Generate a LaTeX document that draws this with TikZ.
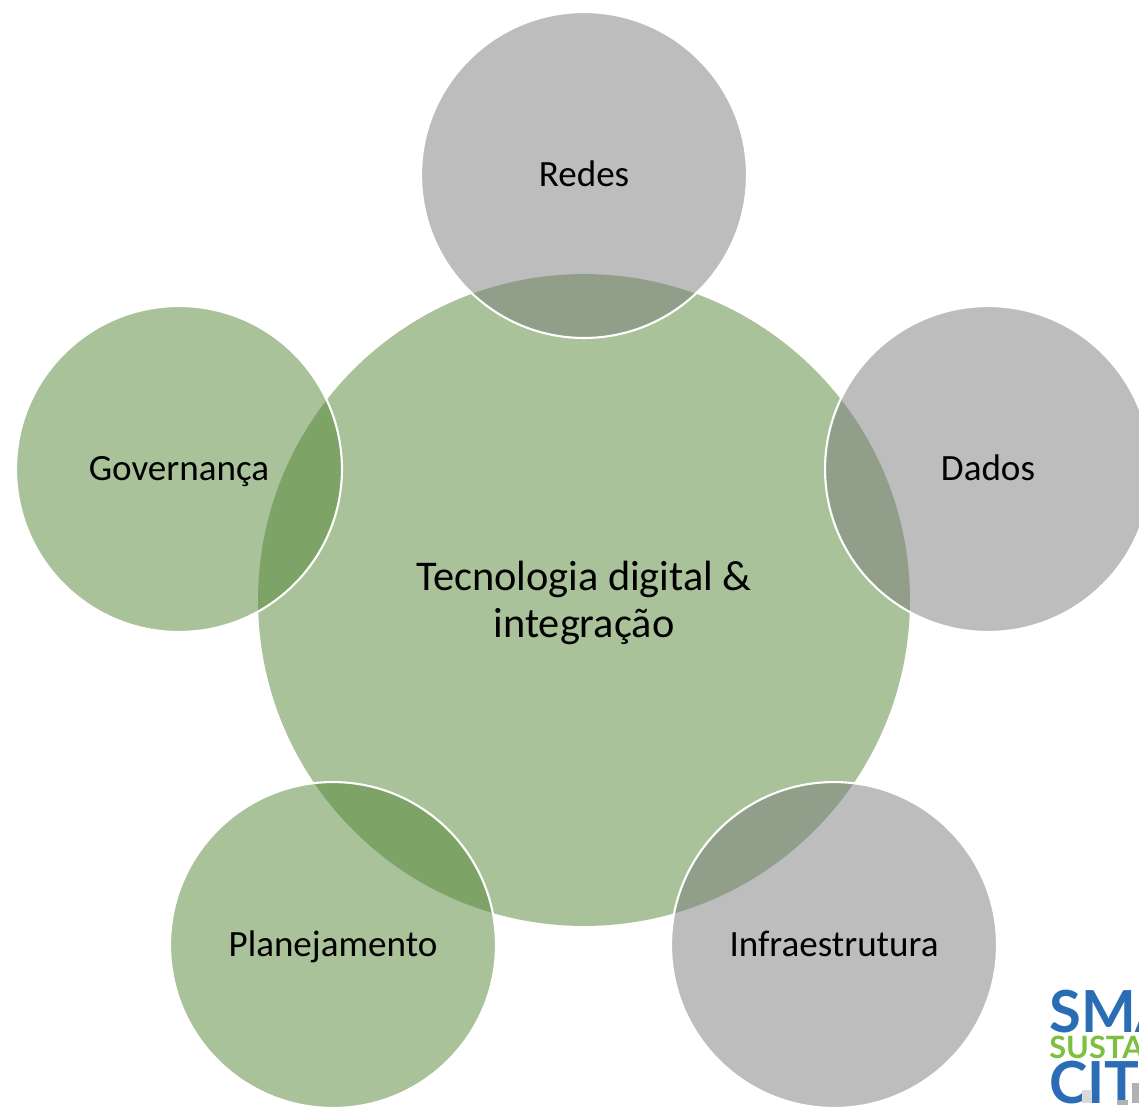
\documentclass[tikz,border=0pt]{standalone}
\usepackage{fontspec}
\setmainfont{Carlito}
\newfontfamily\logofont{Lato}
\definecolor{leafgreen}{HTML}{538535}
\definecolor{stonegrey}{HTML}{7B7B7B}
\definecolor{logoblue}{HTML}{2B6DB5}
\definecolor{logogreen}{HTML}{7DBF3F}
\tikzset{
    hub/.style={circle,minimum size=13.04cm,inner sep=0pt,fill=leafgreen,fill opacity=.5,text opacity=1,align=center,font=\fontsize{24.1}{26.6}\selectfont},
    spoke/.style={circle,minimum size=6.52cm,inner sep=0pt,draw=white,line width=1.2pt,fill opacity=.5,text opacity=1,text height=16pt,text depth=2.4pt,font=\fontsize{21.1}{24}\selectfont},
    logotext/.style={anchor=base west,inner sep=0pt},
}
\begin{document}
\begin{tikzpicture}[x=.02cm,y=-.02cm]
            \useasboundingbox (0,0) rectangle (1139,1107);
            \node[hub] (tech) at (584,600) {\rule{0pt}{20pt}Tecnologia digital \&\\integração};
            \node[spoke,fill=stonegrey] (redes) at (584,175) {Redes};
            \node[spoke,fill=stonegrey] (dados) at (988,469) {Dados};
            \node[spoke,fill=stonegrey] (infra) at (834,945) {Infraestrutura};
            \node[spoke,fill=leafgreen] (plan) at (333,945) {Planejamento};
            \node[spoke,fill=leafgreen] (gov) at (179,469) {Governança};
            \begin{scope}
                \clip (1040,975) rectangle (1139,1107);
                \node[logotext,text=logoblue,font=\logofont\bfseries\fontsize{33}{33}\selectfont] (smart) at (1049,1032) {SMA};
                \node[logotext,text=logogreen,font=\logofont\bfseries\fontsize{17.5}{17.5}\selectfont] (sust) at (1049,1058) {SUSTAI};
                \node[logotext,text=logoblue,font=\logofont\bfseries\fontsize{33}{33}\selectfont] (city) at (1049,1103) {CIT};
                \fill[gray!30] (1082,1090) rectangle (1092,1103);
                \fill[gray!60] (1117,1100) rectangle (1128,1105);
                \fill[gray!60] (1132,1083) rectangle (1139,1103);
            \end{scope}
        \end{tikzpicture}
\end{document}
